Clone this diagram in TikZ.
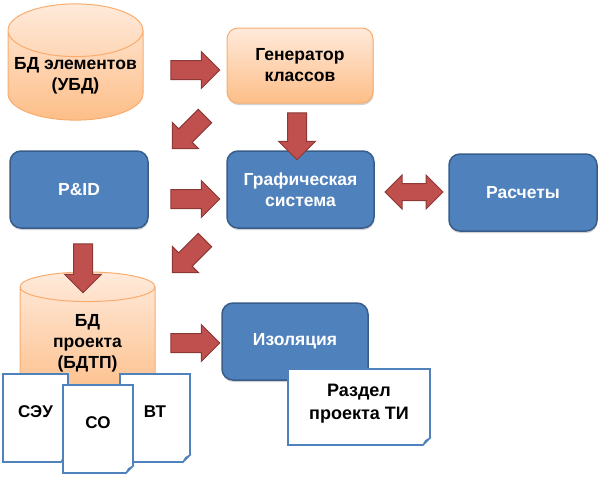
\documentclass[tikz,border=0pt]{standalone}
\usepackage{fontspec}
\setmainfont{Liberation Sans}
\usetikzlibrary{shapes.geometric,shapes.arrows,shadows}

\definecolor{boxblue}{HTML}{4F81BD}
\definecolor{boxblueline}{HTML}{385D8A}
\definecolor{orangetop}{HTML}{FFEADB}
\definecolor{orangebot}{HTML}{FDBE88}
\definecolor{orangeline}{HTML}{F8AC6E}
\definecolor{arrowred}{HTML}{C0504D}
\definecolor{arrowredline}{HTML}{8C3836}
\definecolor{pageblue}{HTML}{4F81BD}
\definecolor{pagefoldfill}{HTML}{DCE6F2}

\tikzset{
  softshadow/.style={drop shadow={shadow xshift=0.5pt, shadow yshift=-2pt,
    opacity=0.18, fill=black}},
  boxtext/.style={font=\fontsize{17.5}{21}\selectfont\bfseries, align=center},
  bluebox/.style={boxtext, rounded corners=11pt, draw=boxblueline, line width=1.5pt,
    fill=boxblue, text=white, softshadow},
  orangebox/.style={boxtext, rounded corners=11pt, draw=orangeline, line width=1pt,
    top color=orangetop, bottom color=orangebot, softshadow},
  dbcyl/.style={boxtext, cylinder, shape border rotate=90, aspect=0.43,
    anchor=shape center, draw=orangeline, line width=1pt, top color=orangetop,
    bottom color=orangebot, inner sep=0pt, minimum width=135pt},
  bigarrow/.style={single arrow, draw=arrowredline, fill=arrowred, line width=1pt,
    inner xsep=0pt, inner ysep=9pt, minimum width=36pt, minimum height=49pt,
    single arrow head extend=9pt},
  botharrow/.style={double arrow, draw=arrowredline, fill=arrowred, line width=1pt,
    inner xsep=0pt, inner ysep=8pt, minimum width=33pt, minimum height=58pt,
    double arrow head extend=8.5pt},
  pagebox/.style={draw=pageblue, fill=white, line width=1.3pt, inner sep=0pt,
    font=\fontsize{17}{23}\selectfont\bfseries, align=center, text depth=12pt},
  pageline/.style={draw=pageblue, line width=1.3pt, line join=round}
}

% folded corner of a page
\newcommand{\pagefold}[1]{%
  \fill[white] ([xshift=-9pt,yshift=-1pt]#1.south east) -- ([xshift=1pt,yshift=-1pt]#1.south east)
    -- ([xshift=1pt,yshift=9pt]#1.south east) -- cycle;
  \draw[pageline, fill=pagefoldfill] ([xshift=-8pt]#1.south east) -- ([yshift=8pt]#1.south east)
    -- ([xshift=-5pt,yshift=5pt]#1.south east) -- cycle;
}

\begin{document}
\begin{tikzpicture}[x=1pt,y=-1pt]
  \useasboundingbox (0,0) rectangle (599,477);

  % Data bases and blocks
  \node[dbcyl, minimum height=116pt] (ubd) at (75.5,62) {БД элементов\\(УБД)};
  \node[orangebox, minimum width=146pt, minimum height=75pt] (gen) at (300,65.5) {Генератор\\классов};
  \node[bluebox, minimum width=138pt, minimum height=77pt] (pid) at (79,189.5) {P\&ID};
  \node[bluebox, minimum width=147pt, minimum height=77pt] (graph) at (300.5,189.5) {Графическая\\система};
  \node[bluebox, minimum width=148pt, minimum height=77pt] (calc) at (523,192.5) {Расчеты};
  \node[dbcyl, minimum height=128pt] (bdtp) at (87.5,336) {БД\\проекта\\(БДТП)};
  \node[bluebox, minimum width=146pt, minimum height=77pt] (iso) at (295,341.5) {Изоляция};

  % Pages
  \node[pagebox, minimum width=65pt, minimum height=88pt] (seu) at (35.5,418) {СЭУ};
  \pagefold{seu}
  \node[pagebox, minimum width=70pt, minimum height=88pt] (vt) at (155,418) {ВТ};
  \pagefold{vt}
  \node[pagebox, minimum width=70pt, minimum height=88pt] (co) at (98,429) {СО};
  \pagefold{co}
  \node[pagebox, minimum width=142pt, minimum height=76pt, font=\fontsize{18}{23}\selectfont\bfseries,
    text depth=10pt] (razdel) at (359,407) {Раздел\\проекта ТИ};
  \pagefold{razdel}

  % Block arrows
  \node[bigarrow] (ubd-gen) at (190.5,70) {};
  \node[bigarrow] (pid-graph) at (190.5,199) {};
  \node[bigarrow] (bdtp-iso) at (190.5,343) {};
  \node[bigarrow, rotate=-90, minimum height=47pt] (gen-graph) at (297,131.5) {};
  \node[bigarrow, rotate=-90] (pid-bdtp) at (83,263.5) {};
  \node[bigarrow, rotate=-135, minimum height=46pt] (gen-pid) at (192,129) {};
  \node[bigarrow, rotate=-135, minimum height=46pt] (graph-bdtp) at (192,253) {};
  \node[botharrow] (graph-calc) at (414,192) {};
\end{tikzpicture}
\end{document}
